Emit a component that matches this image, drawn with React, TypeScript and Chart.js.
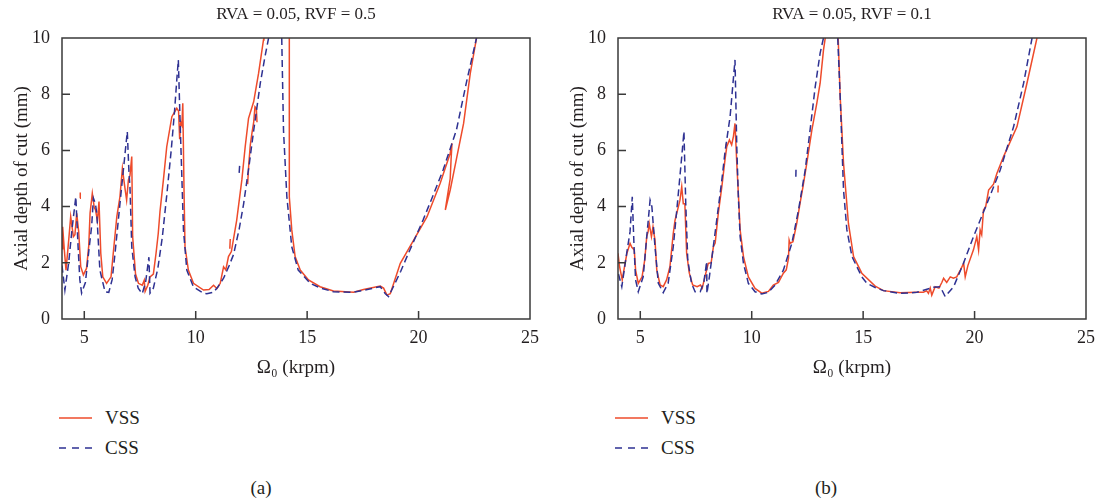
import React, { useEffect, useRef } from "react";
import { Chart, registerables } from "chart.js";

Chart.register(...registerables);

type Pt = [number, number] | null;

const titles = ["RVA = 0.05, RVF = 0.5", "RVA = 0.05, RVF = 0.1"];
const seriesNames = ["VSS", "CSS"];
const panelLabels = ["(a)", "(b)"];
const xAxisLabel = "Ω₀ (krpm)";
const yAxisLabel = "Axial depth of cut (mm)";
const xTickValues = [5, 10, 15, 20, 25];
const yTickValues = [0, 2, 4, 6, 8, 10];

// Panel (a): RVF = 0.5
const vssA: Pt[] = [
  [4.0, 2.5], [4.03, 3.28], [4.1, 2.5], [4.18, 1.74], [4.3, 2.8], [4.39, 3.64], [4.51, 2.93], [4.58, 3.0],
  [4.66, 3.76], [4.75, 3.1], [4.84, 1.86], [4.96, 1.57], [5.1, 1.8], [5.2, 2.6], [5.26, 3.77], [5.36, 4.47],
  [5.45, 3.95], [5.5, 3.9], [5.59, 3.5], [5.66, 4.18], [5.74, 2.34], [5.83, 1.5], [6.0, 1.27], [6.2, 1.5],
  [6.3, 2.34], [6.46, 3.64], [6.6, 4.35], [6.71, 5.36], [6.8, 4.8], [6.9, 4.23], [6.98, 4.95], [7.05, 5.1],
  [7.13, 5.78], [7.17, 2.93], [7.3, 1.6], [7.43, 1.27], [7.6, 1.2], [7.69, 1.38], [7.73, 0.98], [7.85, 1.2],
  [7.95, 1.5], [8.1, 1.6], [8.22, 2.34], [8.32, 3.05], [8.4, 3.85], [8.55, 4.95], [8.7, 6.13], [8.93, 7.2],
  [9.15, 7.5], [9.23, 7.4], [9.28, 6.4], [9.33, 7.0], [9.38, 6.9], [9.42, 7.68], [9.48, 4.35], [9.52, 2.57],
  [9.67, 1.74], [9.9, 1.27], [10.35, 1.03], [10.6, 1.05], [10.8, 1.2], [10.95, 1.08], [11.1, 1.27], [11.25, 1.86],
  [11.35, 1.75], [11.47, 2.22], [11.6, 2.4], [11.84, 3.52], [12.07, 4.95], [12.22, 6.13], [12.37, 7.14],
  [12.6, 7.73], [12.82, 8.74], [13.04, 9.93], [13.06, 10], null,
  [14.2, 10], [14.2, 4.35], [14.31, 3.17], [14.46, 2.22], [14.69, 1.74], [15.06, 1.39], [15.58, 1.15],
  [16.18, 1.0], [17.08, 0.95], [17.53, 1.05], [18.28, 1.17], [18.43, 1.1], [18.58, 0.85], [18.73, 0.9],
  [19.18, 1.98], [19.78, 2.81], [20.38, 3.64], [20.97, 4.83], [21.42, 5.9], [21.5, 6.25], [21.46, 5.7],
  [21.42, 5.0], [21.3, 4.4], [21.2, 3.88], [21.42, 4.59], [21.7, 5.7], [22.02, 6.96], [22.32, 8.74], [22.6, 10], null,
  [12.33, 4.8], [12.38, 5.5], [12.45, 6.2], [12.52, 6.6], [12.6, 7.0], [12.66, 7.55], [12.72, 7.5], [12.75, 7.0], null,
  [11.53, 2.5], [11.55, 2.85], null,
  [4.81, 4.3], [4.82, 4.5],
];

const cssA: Pt[] = [
  [4.0, 1.9], [4.13, 1.03], [4.3, 2.0], [4.45, 3.2], [4.62, 4.35], [4.72, 2.6], [4.8, 1.4], [4.88, 0.92],
  [5.05, 1.3], [5.2, 2.4], [5.33, 3.3], [5.41, 4.3], [5.5, 4.1], [5.56, 3.76], [5.7, 1.74], [5.93, 0.97],
  [6.1, 0.95], [6.25, 1.4], [6.38, 2.34], [6.6, 4.1], [6.83, 5.9], [6.93, 6.67], [7.0, 5.3], [7.05, 4.7],
  [7.13, 2.57], [7.28, 1.5], [7.42, 1.1], [7.6, 0.9], [7.75, 1.3], [7.9, 2.2], [7.95, 0.92], [8.1, 1.1],
  [8.3, 1.8], [8.5, 2.9], [8.7, 4.4], [8.9, 6.0], [9.05, 7.4], [9.15, 8.5], [9.22, 9.22], [9.3, 7.0],
  [9.38, 5.0], [9.45, 3.17], [9.6, 1.74], [9.9, 1.14], [10.35, 0.92], [10.5, 0.9], [10.8, 0.95], [11.0, 1.15],
  [11.25, 1.45], [11.5, 1.9], [11.7, 2.3], [11.95, 3.2], [12.15, 4.1], [12.4, 5.5], [12.6, 6.7], [12.9, 8.4],
  [13.1, 9.3], [13.27, 10], null,
  [13.86, 10], [13.94, 6.7], [14.09, 4.35], [14.31, 2.57], [14.6, 1.74], [15.14, 1.27], [15.6, 1.1],
  [16.18, 0.97], [17.08, 0.95], [17.7, 1.05], [18.28, 1.15], [18.5, 0.91], [18.65, 0.8], [18.9, 1.2],
  [19.2, 1.7], [19.48, 2.22], [20.2, 3.52], [20.6, 4.3], [21.1, 5.3], [21.7, 6.73], [22.17, 8.5], [22.6, 10], null,
  [11.95, 5.2], [11.97, 5.45],
];

// Panel (b): RVF = 0.1
const vssB: Pt[] = [
  [4.0, 2.34], [4.07, 1.86], [4.19, 1.39], [4.3, 1.9], [4.4, 2.34], [4.54, 2.69], [4.62, 2.55], [4.73, 2.46],
  [4.79, 1.74], [4.91, 1.27], [5.08, 1.5], [5.2, 2.1], [5.29, 2.93], [5.35, 3.1], [5.4, 3.4], [5.5, 2.93],
  [5.57, 3.28], [5.66, 2.81], [5.74, 1.74], [5.89, 1.21], [6.03, 1.15], [6.18, 1.39], [6.33, 1.86], [6.48, 3.05],
  [6.56, 3.52], [6.71, 4.0], [6.78, 4.23], [6.86, 4.71], [6.93, 4.1], [7.0, 4.1], [7.08, 2.34], [7.2, 1.63],
  [7.35, 1.21], [7.55, 1.15], [7.7, 1.21], [7.78, 1.1], [7.9, 1.5], [8.05, 1.98], [8.18, 2.0], [8.28, 2.57],
  [8.36, 2.7], [8.5, 3.76], [8.66, 4.71], [8.8, 5.66], [8.88, 6.13], [9.0, 6.37], [9.1, 6.2], [9.18, 6.5],
  [9.25, 6.96], [9.33, 5.54], [9.4, 4.47], [9.48, 3.17], [9.63, 2.22], [9.85, 1.5], [10.15, 1.09], [10.45, 0.92],
  [10.75, 0.98], [10.97, 1.21], [11.2, 1.3], [11.42, 1.63], [11.55, 1.75], [11.65, 2.16], [11.68, 2.8],
  [11.72, 2.69], [11.85, 2.75], [12.02, 3.4], [12.17, 4.12], [12.3, 4.7], [12.47, 5.54], [12.7, 6.73],
  [12.92, 7.67], [13.07, 8.39], [13.22, 9.57], [13.3, 10], null,
  [13.88, 10], [13.97, 7.91], [14.12, 5.54], [14.34, 3.4], [14.57, 2.22], [14.94, 1.63], [15.54, 1.17],
  [15.91, 1.01], [16.66, 0.93], [17.41, 0.95], [17.7, 0.95], [17.85, 1.0], [17.93, 0.91], [18.01, 1.1],
  [18.08, 0.85], [18.23, 1.15], [18.4, 1.1], [18.53, 1.3], [18.61, 1.45], [18.75, 1.3], [18.91, 1.5],
  [19.05, 1.45], [19.2, 1.5], [19.36, 1.74], [19.51, 1.98], [19.58, 1.5], [19.7, 1.9], [19.95, 2.46],
  [20.1, 2.93], [20.18, 2.46], [20.25, 3.17], [20.32, 3.0], [20.4, 3.88], [20.5, 4.0], [20.63, 4.59],
  [20.85, 4.8], [21.0, 5.18], [21.3, 5.78], [21.9, 6.84], [22.35, 8.39], [22.8, 10], null,
  [8.85, 6.0], [8.86, 6.25], null,
  [21.05, 4.5], [21.06, 4.75],
];

const cssB: Pt[] = [
  [4.02, 1.6], [4.17, 1.15], [4.39, 2.34], [4.54, 3.1], [4.64, 4.35], [4.72, 2.57], [4.79, 1.39], [4.91, 0.97],
  [5.13, 1.5], [5.29, 2.93], [5.44, 4.23], [5.52, 4.0], [5.66, 2.57], [5.81, 1.27], [6.03, 0.94], [6.25, 1.27],
  [6.48, 2.57], [6.68, 4.23], [6.86, 5.78], [6.96, 6.67], [7.04, 4.1], [7.13, 2.1], [7.3, 1.27], [7.46, 0.97],
  [7.69, 0.97], [7.85, 1.3], [7.98, 2.04], [7.99, 0.91], [8.1, 1.5], [8.2, 2.1], [8.43, 3.52], [8.66, 4.95],
  [8.81, 6.0], [9.03, 7.2], [9.15, 8.3], [9.25, 9.22], [9.33, 6.13], [9.4, 4.35], [9.48, 2.93], [9.63, 1.98],
  [9.85, 1.27], [10.15, 0.97], [10.45, 0.89], [10.75, 0.95], [11.05, 1.21], [11.42, 1.74], [11.8, 2.69],
  [12.1, 3.88], [12.4, 5.3], [12.62, 6.73], [12.85, 8.27], [13.07, 9.46], [13.22, 10], null,
  [13.86, 10], [13.97, 7.91], [14.05, 6.13], [14.12, 4.59], [14.27, 3.17], [14.5, 2.22], [14.94, 1.5],
  [15.17, 1.27], [15.54, 1.12], [15.91, 1.01], [16.66, 0.91], [17.41, 0.95], [18.16, 1.13], [18.46, 1.15],
  [18.68, 0.8], [19.06, 1.15], [19.5, 1.98], [19.95, 2.93], [20.55, 4.1], [21.15, 5.3], [21.75, 6.84],
  [22.2, 8.39], [22.58, 10], null,
  [11.98, 5.06], [11.99, 5.42],
];

const RED = "#EE4B2B";
const BLUE = "#2E3192";
const TEXT = "#231F20";
const FRAME = "#3A3A3A";
const FONT = "'Liberation Serif', 'Times New Roman', serif";

function toData(pts: Pt[]) {
  const out: { x: number; y: number | null }[] = [];
  let lastX = 4;
  for (const p of pts) {
    if (p === null) out.push({ x: lastX, y: null });
    else {
      lastX = p[0];
      out.push({ x: p[0], y: p[1] });
    }
  }
  return out;
}

const frameTicks = {
  id: "frameTicks",
  afterDatasetsDraw(chart: any) {
    const { ctx, chartArea: a, scales } = chart;
    ctx.save();
    ctx.strokeStyle = FRAME;
    ctx.lineWidth = 1.5;
    ctx.strokeRect(a.left, a.top, a.right - a.left, a.bottom - a.top);
    ctx.beginPath();
    for (const v of xTickValues) {
      const px = scales.x.getPixelForValue(v);
      if (px > a.left + 1 && px < a.right - 1) {
        ctx.moveTo(px, a.bottom);
        ctx.lineTo(px, a.bottom - 8);
      }
    }
    for (const v of yTickValues) {
      const py = scales.y.getPixelForValue(v);
      if (py > a.top + 1 && py < a.bottom - 1) {
        ctx.moveTo(a.left, py);
        ctx.lineTo(a.left + 8, py);
      }
    }
    ctx.stroke();
    ctx.restore();
  },
};

const CANVAS_H = 400;

function Panel({ left, title, vss, css }: { left: number; title: string; vss: Pt[]; css: Pt[] }) {
  const ref = useRef<HTMLCanvasElement>(null);
  useEffect(() => {
    if (!ref.current) return;
    const chart = new Chart(ref.current, {
      type: "scatter",
      data: {
        datasets: [
          {
            label: seriesNames[1],
            data: toData(css) as any,
            showLine: true,
            borderColor: BLUE,
            backgroundColor: BLUE,
            borderWidth: 1.5,
            borderDash: [7, 4],
            pointRadius: 0,
            spanGaps: false,
            fill: false,
          },
          {
            label: seriesNames[0],
            data: toData(vss) as any,
            showLine: true,
            borderColor: RED,
            backgroundColor: RED,
            borderWidth: 1.5,
            pointRadius: 0,
            spanGaps: false,
            fill: false,
          },
        ],
      },
      options: {
        animation: false,
        responsive: false,
        devicePixelRatio: 1,
        layout: { padding: { left: 0, right: 20, top: 0, bottom: 0 } },
        plugins: {
          legend: { display: false },
          tooltip: { enabled: false },
          title: {
            display: true,
            text: title,
            fullSize: false,
            color: TEXT,
            font: { family: FONT, size: 17, weight: "normal" },
            padding: { top: 4, bottom: 13.6 },
          },
        },
        scales: {
          x: {
            type: "linear",
            min: 4,
            max: 25,
            grid: { display: false, drawTicks: false },
            border: { display: false },
            afterBuildTicks: (s: any) => {
              s.ticks = xTickValues.map((v) => ({ value: v }));
            },
            afterFit: (s: any) => {
              s.height = CANVAS_H - 319;
            },
            ticks: {
              padding: 8,
              color: TEXT,
              autoSkip: false,
              maxRotation: 0,
              font: { family: FONT, size: 18 },
            },
            title: {
              display: true,
              text: xAxisLabel,
              color: TEXT,
              font: { family: FONT, size: 19 },
              padding: { top: 0, bottom: 20.6 },
            },
          },
          y: {
            type: "linear",
            min: 0,
            max: 10,
            grid: { display: false, drawTicks: false },
            border: { display: false },
            afterBuildTicks: (s: any) => {
              s.ticks = yTickValues.map((v) => ({ value: v }));
            },
            afterFit: (s: any) => {
              s.width = 62;
            },
            ticks: {
              padding: 12,
              color: TEXT,
              autoSkip: false,
              font: { family: FONT, size: 18 },
            },
            title: {
              display: true,
              text: yAxisLabel,
              color: TEXT,
              font: { family: FONT, size: 19 },
              padding: { top: 11, bottom: 0 },
            },
          },
        },
      },
      plugins: [frameTicks],
    });
    return () => chart.destroy();
  }, [title, vss, css]);

  return (
    <canvas
      ref={ref}
      width={550}
      height={CANVAS_H}
      style={{ position: "absolute", left, top: 0, width: 550, height: CANVAS_H }}
    />
  );
}

function Legend({ left }: { left: number }) {
  const textStyle: React.CSSProperties = {
    position: "absolute",
    fontFamily: FONT,
    fontSize: 19,
    lineHeight: "22px",
    color: TEXT,
    whiteSpace: "nowrap",
  };
  return (
    <>
      <svg style={{ position: "absolute", left: left + 59, top: 410 }} width={34} height={16}>
        <line x1={0} y1={8} x2={33} y2={8} stroke={RED} strokeWidth={1.5} />
      </svg>
      <div style={{ ...textStyle, left: left + 105, top: 407 }}>{seriesNames[0]}</div>
      <svg style={{ position: "absolute", left: left + 59, top: 440 }} width={34} height={16}>
        <line x1={0} y1={8} x2={33} y2={8} stroke={BLUE} strokeWidth={1.5} strokeDasharray="7,6" />
      </svg>
      <div style={{ ...textStyle, left: left + 105, top: 437 }}>{seriesNames[1]}</div>
    </>
  );
}

export default function App() {
  const labelStyle: React.CSSProperties = {
    position: "absolute",
    top: 477,
    width: 60,
    textAlign: "center",
    fontFamily: FONT,
    fontSize: 19,
    lineHeight: "22px",
    color: TEXT,
  };
  return (
    <div
      style={{
        position: "absolute",
        left: 0,
        top: 0,
        width: 1100,
        height: 500,
        background: "#fff",
        overflow: "hidden",
      }}
    >
      <Panel left={0} title={titles[0]} vss={vssA} css={cssA} />
      <Panel left={556} title={titles[1]} vss={vssB} css={cssB} />
      <Legend left={0} />
      <Legend left={556} />
      <div style={{ ...labelStyle, left: 231 }}>{panelLabels[0]}</div>
      <div style={{ ...labelStyle, left: 796 }}>{panelLabels[1]}</div>
    </div>
  );
}
